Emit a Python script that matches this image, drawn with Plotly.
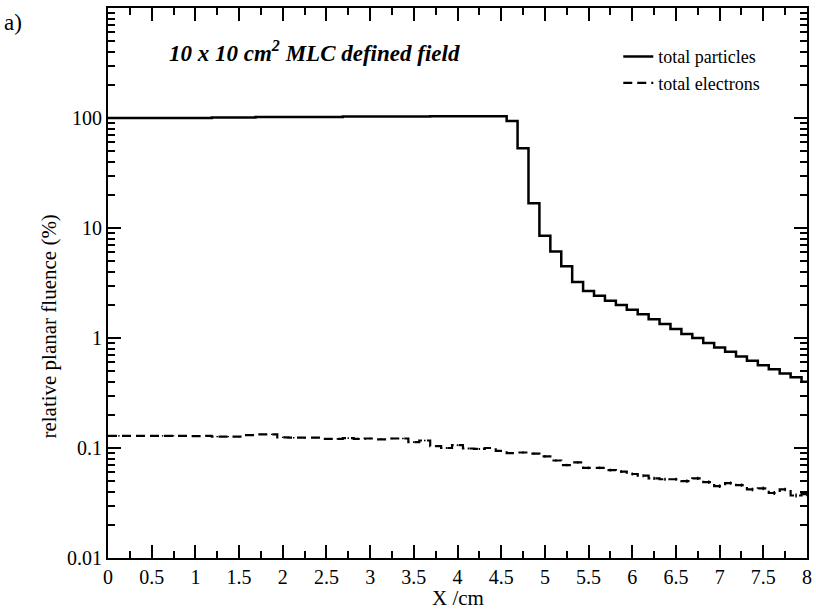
import numpy as np
import plotly.graph_objects as go

# ---- data ----
bin_width = 0.125  # cm, 64 bins over 0..8 cm
particles = [
    100, 100, 100, 100, 100, 100, 100, 100, 100,
    101, 101, 101, 101,
    102, 102, 102, 102, 102, 102, 102, 102,
    103, 103, 103, 103, 103, 103, 103, 103,
    103.5, 103.5, 103.5, 103.5, 103.5, 103.5, 103.5,
    94, 53, 16.8, 8.5, 6.1, 4.5, 3.23, 2.67, 2.42, 2.18,
    2.0, 1.81, 1.645, 1.48, 1.34, 1.21, 1.09, 1.0, 0.90, 0.82,
    0.75, 0.68, 0.62, 0.565, 0.52, 0.475, 0.44, 0.40,
]
electrons = [
    0.129, 0.129, 0.129, 0.129, 0.129, 0.129, 0.129, 0.128, 0.129,
    0.127, 0.127, 0.127, 0.131, 0.133, 0.133, 0.125, 0.124, 0.124,
    0.124, 0.121, 0.121, 0.123, 0.121, 0.122, 0.120, 0.122, 0.122,
    0.113, 0.117, 0.104, 0.100, 0.106, 0.099, 0.098, 0.100, 0.094,
    0.090, 0.091, 0.089, 0.084, 0.077, 0.070, 0.074, 0.066, 0.066,
    0.063, 0.061, 0.058, 0.056, 0.053, 0.052, 0.052, 0.050, 0.053,
    0.049, 0.045, 0.048, 0.046, 0.042, 0.043, 0.039, 0.042, 0.037,
    0.038,
]
electron_err = [
    0.0015, 0.0015, 0.0015, 0.0015, 0.0015, 0.0015, 0.0015, 0.0015,
    0.0015, 0.0015, 0.0015, 0.0015, 0.0015, 0.0015, 0.0015, 0.0015,
    0.0018, 0.0018, 0.0018, 0.0018, 0.0018, 0.0018, 0.0018, 0.0018,
    0.0020, 0.0020, 0.0020, 0.0020, 0.0020, 0.0020, 0.0020, 0.0020,
    0.0020, 0.0020, 0.0020, 0.0020, 0.0020, 0.0020, 0.0020, 0.0020,
    0.0018, 0.0018, 0.0018, 0.0018, 0.0018, 0.0018, 0.0018, 0.0018,
    0.0017, 0.0017, 0.0017, 0.0017, 0.0017, 0.0017, 0.0017, 0.0017,
    0.0016, 0.0016, 0.0016, 0.0016, 0.0016, 0.0016, 0.0016, 0.0016,
]
x_ticks = [0, 0.5, 1, 1.5, 2, 2.5, 3, 3.5, 4, 4.5, 5, 5.5, 6, 6.5, 7, 7.5, 8]
y_ticks = [0.01, 0.1, 1, 10, 100]
y_ticklabels = ["0.01", "0.1", "1", "10", "100"]

# ---- step positions (bin centres; first starts at 0, last ends at 8) ----
n = len(particles)
centers = (np.arange(n) + 0.5) * bin_width
x_step = np.concatenate([[0.0], centers[1:], [n * bin_width]])
y_part = particles + [particles[-1]]
y_elec = electrons + [electrons[-1]]
x_mid = (np.arange(n) + 1) * bin_width

FONT = "Liberation Serif"
fig = go.Figure()
fig.add_trace(go.Scatter(
    x=x_step, y=y_part, mode="lines", line=dict(color="black", width=2.5, shape="hv"),
    name="total particles"))
fig.add_trace(go.Scatter(
    x=x_step, y=y_elec, mode="lines",
    line=dict(color="black", width=2.2, shape="hv", dash="9px,5px"),
    name="total electrons"))
fig.add_trace(go.Scatter(
    x=x_mid, y=electrons, mode="markers", marker=dict(size=1, color="black"),
    error_y=dict(type="data", array=electron_err, color="black", thickness=1.5, width=0),
    showlegend=False, hoverinfo="skip"))

axis_common = dict(
    showline=True, linecolor="black", linewidth=2, mirror="allticks",
    ticks="inside", tickcolor="black", tickwidth=2, ticklen=13,
    showgrid=False, zeroline=False,
    tickfont=dict(family=FONT, size=20, color="black"),
)
fig.update_xaxes(
    **axis_common, range=[0, 8], tickvals=x_ticks,
    minor=dict(ticks="inside", ticklen=7, tickwidth=2, tickcolor="black", dtick=0.25, tick0=0),
)
fig.update_yaxes(
    **axis_common, type="log", range=[-2, 3], tickvals=y_ticks, ticktext=y_ticklabels,
    minor=dict(ticks="inside", ticklen=7, tickwidth=2, tickcolor="black", dtick="D1"),
)

fig.add_annotation(
    text="X /cm", xref="paper", yref="paper", x=0.5, y=0, yshift=-40,
    showarrow=False, xanchor="center", yanchor="middle",
    font=dict(family=FONT, size=21, color="black"))
fig.add_annotation(
    text="relative planar fluence (%)", textangle=-90, xref="paper", yref="paper",
    x=-0.085, y=0.42, showarrow=False, xanchor="center", yanchor="middle",
    font=dict(family=FONT, size=21, color="black"))
fig.add_annotation(
    text="a)", xref="paper", yref="paper", x=-0.152, y=1.0, showarrow=False,
    xanchor="left", yanchor="top", font=dict(family=FONT, size=23, color="black"))
fig.add_annotation(
    text="<b><i>10 x 10 cm<sup>2</sup> MLC defined field</i></b>", xref="paper", yref="paper",
    x=0.085, y=0.92, showarrow=False, xanchor="left", yanchor="middle",
    font=dict(family=FONT, size=23, color="black"))

fig.update_layout(
    width=816, height=609, plot_bgcolor="white", paper_bgcolor="white",
    margin=dict(l=108, r=4, t=8, b=51),
    legend=dict(x=0.73, y=0.945, xanchor="left", yanchor="top",
                font=dict(family=FONT, size=18, color="black"),
                bgcolor="rgba(0,0,0,0)", tracegroupgap=0, itemwidth=30),
    showlegend=True,
)
fig.write_html("out.html")
